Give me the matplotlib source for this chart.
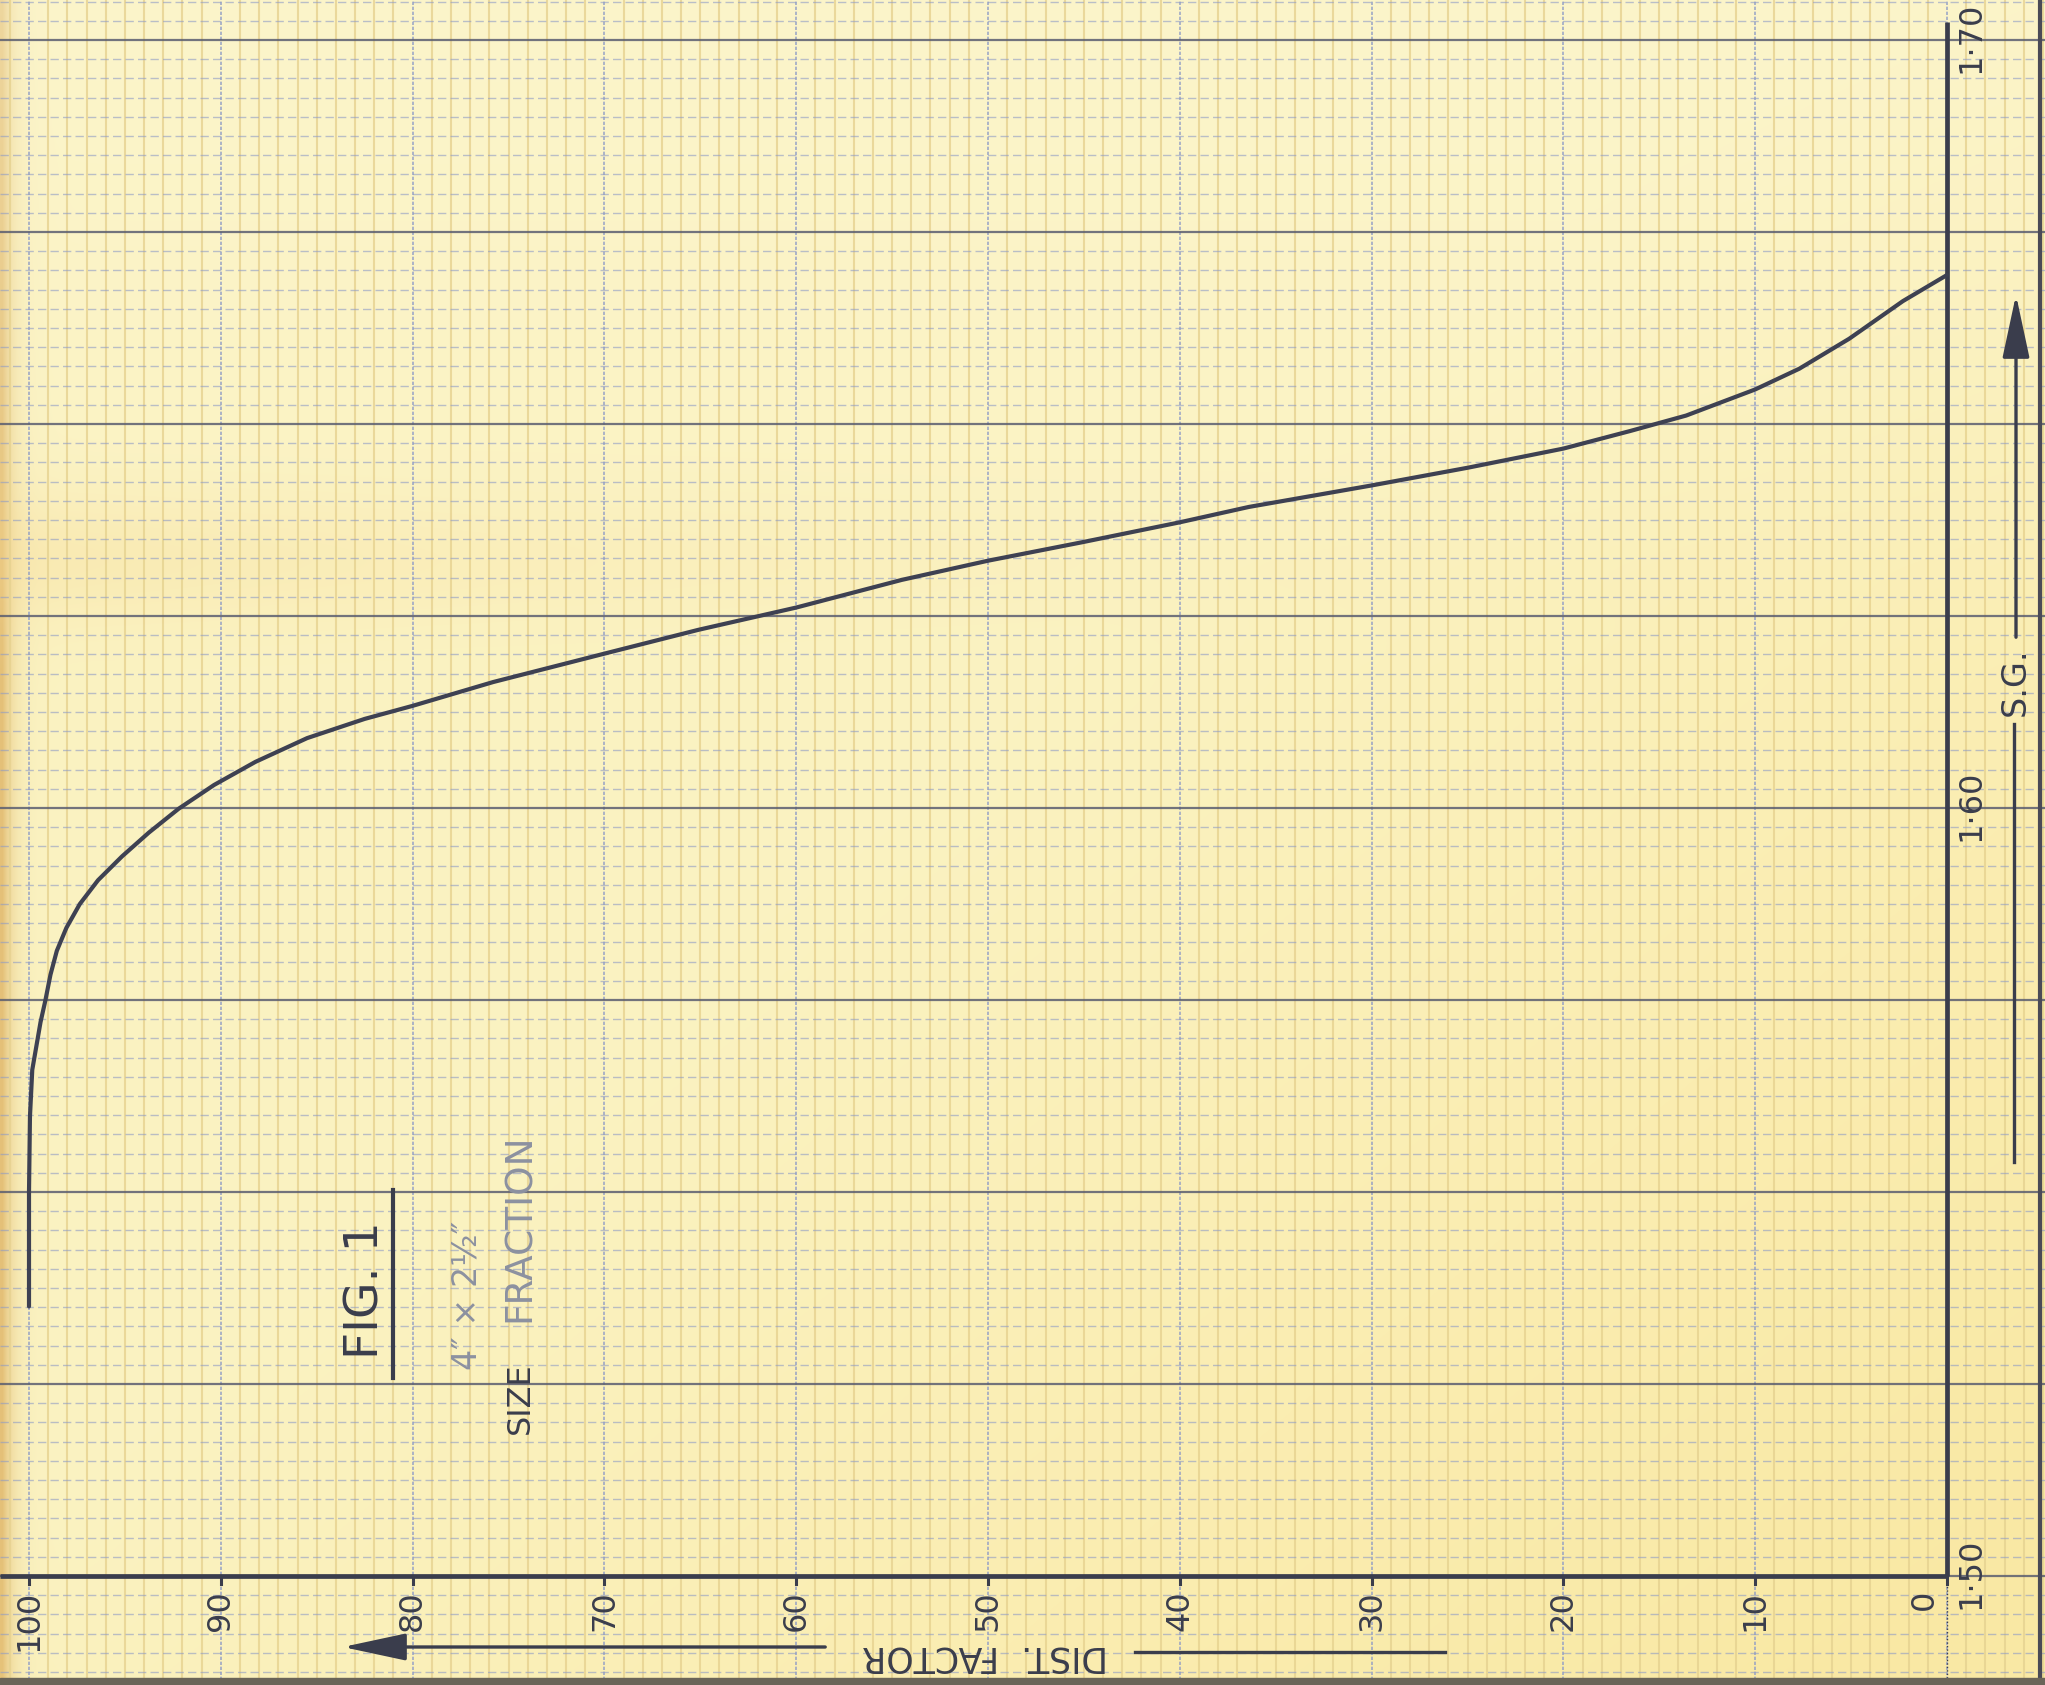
import numpy as np
import matplotlib
matplotlib.use("Agg")
import matplotlib.pyplot as plt

# ---------------- data ----------------
sg_values = [1.5351, 1.5500, 1.5598, 1.5659, 1.5721, 1.5749, 1.5783, 1.5814,
             1.5844, 1.5875, 1.5906, 1.5937, 1.5968, 1.5999, 1.6030, 1.6060,
             1.6091, 1.6116, 1.6133, 1.6164, 1.6201, 1.6232, 1.6261, 1.6297,
             1.6322, 1.6346, 1.6372, 1.6392, 1.6420, 1.6443, 1.6468, 1.6491,
             1.6511, 1.6545, 1.6572, 1.6611, 1.6660, 1.6694]
dist_factor = [100.0, 100.0, 99.95, 99.83, 99.4, 99.15, 98.88, 98.55,
               98.05, 97.35, 96.4, 95.15, 93.75, 92.2, 90.35, 88.2,
               85.5, 82.5, 80.0, 75.8, 70.0, 65.1, 60.0, 54.5,
               50.0, 45.1, 40.0, 36.4, 30.0, 25.0, 20.0, 16.5,
               13.6, 10.0, 7.7, 5.1, 2.3, 0.0]
df_ticks = [100, 90, 80, 70, 60, 50, 40, 30, 20, 10, 0]
df_tick_labels = ["100", "90", "80", "70", "60", "50", "40", "30", "20", "10", "0"]
sg_ticks = [1.50, 1.60, 1.70]
sg_tick_labels = ["1·50", "1·60", "1·70"]

# ---------------- figure / page ----------------
W, H = 2045, 1685
fig = plt.figure(figsize=(W / 100, H / 100), dpi=100)
fig.patch.set_facecolor("#F8EDB4")
ax = fig.add_axes([0, 0, 1, 1])
ax.axis("off")

# page geometry (pixel -> data helpers for decorations)
def df_at(px):
    return (1947 - px) / 19.18

def sg_at(py):
    return 1.5 + (1576 - py) * 0.025 / 192.0

X0, X1 = df_at(0), df_at(W)
Y0, Y1 = sg_at(H), sg_at(0)

# paper tint
hh, ww = 337, 409
gx = np.linspace(0, 1, ww)[None, :]
gy = np.linspace(0, 1, hh)[:, None]
base = np.array([0.984, 0.952, 0.76])
img = np.ones((hh, ww, 3)) * base
def blend(img, w, col):
    w = w[..., None]
    return img * (1 - w) + np.array(col) * w
img = blend(img, 0.85 * np.exp(-gx / 0.005) * np.ones_like(gy), (0.88, 0.72, 0.42))
img = blend(img, 0.55 * np.clip(gx + gy - 0.9, 0, 1) * np.ones((hh, ww)), (0.975, 0.88, 0.55))
img = blend(img, 0.30 * np.exp(-((gy - 0.33) / 0.04) ** 2) * np.exp(-gx / 0.35), (0.96, 0.82, 0.52))
img = blend(img, 0.40 * np.clip(0.4 - gy, 0, 1) / 0.4 * np.ones_like(gx), (0.99, 0.97, 0.84))
ax.imshow(img, extent=[X0, X1, Y0, Y1], aspect="auto", origin="upper",
          interpolation="bilinear", zorder=0)

# ---------------- graph-paper grid ----------------
tan = "#E6D290"
blue = "#8E9BC6"
dark = "#5A5D70"
ink = "#3A3D4C"
pencil = "#8C91A0"

for d in np.arange(-6, 102, 1):
    if d % 10 != 0:
        ax.axvline(d, color=tan, lw=1.5, alpha=0.8, zorder=1)
for d in np.arange(-10, 110, 10):
    ax.axvline(d, color=blue, lw=1.2, ls=(0, (2, 1)), alpha=0.85, zorder=2)
minor_sg = np.round(np.arange(1.4825, 1.7076, 0.0025), 4)
for s in minor_sg:
    if abs(round(s / 0.025) * 0.025 - s) > 1e-6:
        ax.axhline(s, color=blue, lw=1.0, ls=(0, (6, 3)), alpha=0.6, zorder=2)
for s in np.arange(1.475, 1.71, 0.025):
    ax.axhline(s, color=dark, lw=1.6, alpha=0.85, zorder=3)

# ---------------- axes ----------------
ax.plot([X0, 0], [1.50, 1.50], color=ink, lw=3.4, solid_capstyle="butt", zorder=5)
ax.plot([0, 0], [1.50, sg_at(22)], color=ink, lw=3.4, solid_capstyle="butt", zorder=5)
ax.plot([0, 0], [Y0, 1.50], color=ink, lw=1.0, ls=(0, (1, 1.5)), zorder=5)
for t in df_ticks:
    ax.plot([t, t], [1.50, sg_at(1584)], color=ink, lw=2.2, zorder=5)

# curve
ax.plot(dist_factor, sg_values, color="#3E4152", lw=3.0, solid_capstyle="round",
        solid_joinstyle="round", zorder=6)

# ---------------- labels ----------------
font = "DejaVu Sans"
for t, lab in zip(df_ticks, df_tick_labels):
    x = t if t != 0 else df_at(1924)
    ax.text(x, sg_at(1590), lab, rotation=90, ha="center", va="top",
            fontsize=23, color=ink, family=font, zorder=7)
for t, lab in zip(sg_ticks, sg_tick_labels):
    ax.text(df_at(1971), t + 0.0003, lab, rotation=90, ha="center", va="center",
            fontsize=23, color=ink, family=font, zorder=7)

# DIST. FACTOR label (upside down) with arrow
ax.text(df_at(985), sg_at(1656), "DIST.  FACTOR", rotation=180, ha="center",
        va="center", fontsize=25, color=ink, family=font, zorder=7)
ax.annotate("", xy=(df_at(340), sg_at(1647)), xytext=(df_at(828), sg_at(1647)),
            arrowprops=dict(arrowstyle="-|>,head_length=1.4,head_width=0.3",
                            color=ink, lw=2.4, mutation_scale=28), zorder=7)
ax.plot([df_at(1135), df_at(1445)], [sg_at(1652), sg_at(1652)], color=ink, lw=2.4, zorder=7)

# S.G. label with arrow
ax.text(df_at(2015), sg_at(682), "S.G.", rotation=90, ha="center", va="center",
        fontsize=24, color=ink, family=font, zorder=7)
ax.annotate("", xy=(df_at(2016), sg_at(292)), xytext=(df_at(2016), sg_at(640)),
            arrowprops=dict(arrowstyle="-|>,head_length=1.4,head_width=0.3",
                            color=ink, lw=2.4, mutation_scale=28), zorder=7)
ax.plot([df_at(2014), df_at(2014)], [sg_at(724), sg_at(1162)], color=ink, lw=2.4, zorder=7)

# FIG. 1 block
ax.text(df_at(366), sg_at(1290), "FIG. 1", rotation=90, ha="center", va="center",
        fontsize=34, color=ink, family=font, zorder=7)
ax.plot([df_at(393), df_at(393)], [sg_at(1190), sg_at(1378)], color=ink, lw=3.0, zorder=7)
ax.text(df_at(467), sg_at(1295), "4″ × 2½″", rotation=90, ha="center", va="center",
        fontsize=24, color=pencil, family=font, zorder=7)
ax.text(df_at(520), sg_at(1398), "SIZE", rotation=90, ha="center", va="center",
        fontsize=23, color=ink, family=font, zorder=7)
ax.text(df_at(520), sg_at(1228), "FRACTION", rotation=90, ha="center", va="center",
        fontsize=27, color=pencil, family=font, zorder=7)

# scan edges
ax.axvline(df_at(2040), color="#4A4A56", lw=3.0, zorder=8)
ax.axhspan(Y0, sg_at(1678), color="#6A6458", zorder=8)

ax.set_xlim(X0, X1)
ax.set_ylim(Y0, Y1)
fig.savefig("out.png", dpi=100, facecolor=fig.get_facecolor())
